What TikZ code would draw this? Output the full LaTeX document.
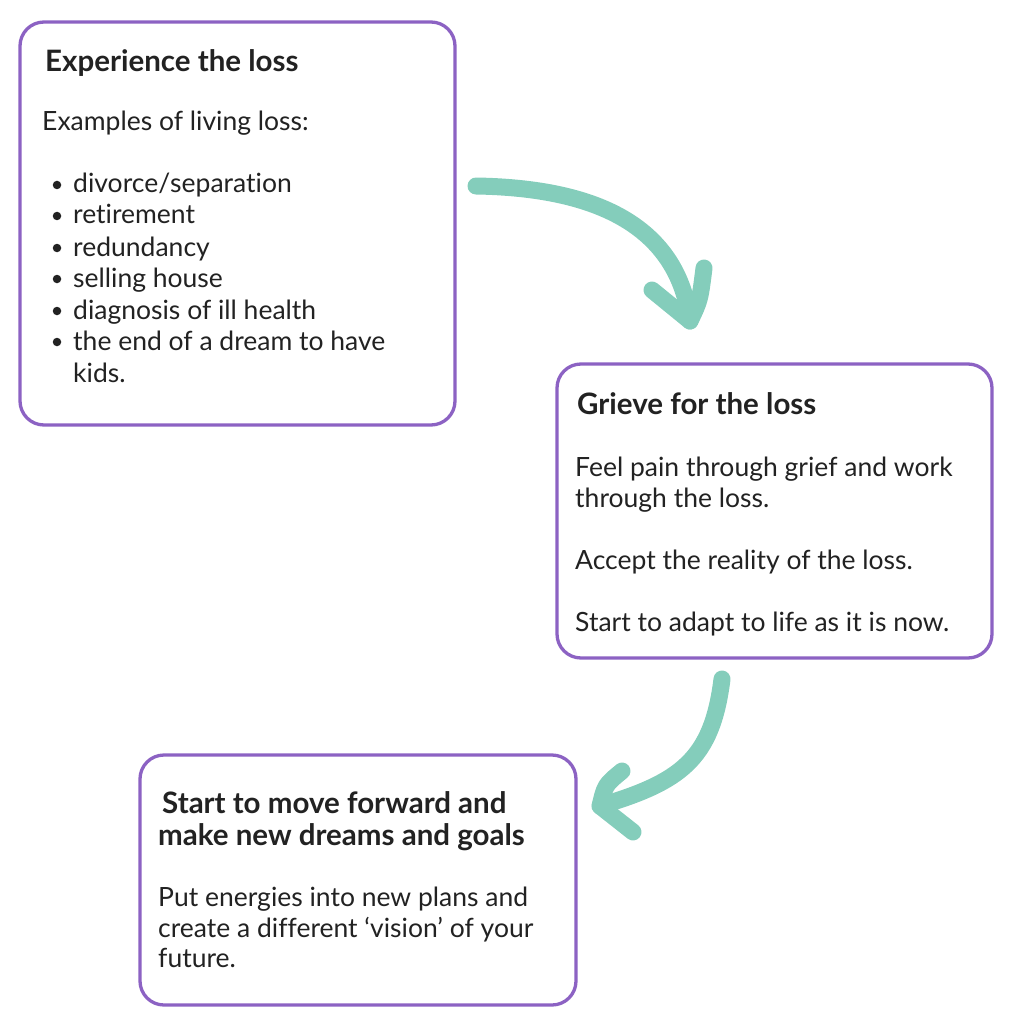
\documentclass[tikz,border=0pt]{standalone}
\usepackage{fontspec}
\setmainfont{Lato}[Ligatures=NoCommon]
\definecolor{boxpurple}{HTML}{8C62C3}
\definecolor{arrowgreen}{HTML}{84CDBB}
\definecolor{txt}{HTML}{222222}
\begin{document}
\begin{tikzpicture}[x=1pt,y=-1pt,
  stagebox/.style={draw=boxpurple,line width=3.3pt,rounded corners=24pt,fill=white},
  ttl/.style={anchor=base west,inner sep=0pt,text=txt,font=\fontsize{29.5}{32}\selectfont\bfseries},
  bodytxt/.style={anchor=base west,inner sep=0pt,text=txt,font=\fontsize{26.5}{31}\selectfont},
  bul/.style={circle,fill=txt,inner sep=0pt,minimum size=8.5pt},
  flow/.style={draw=arrowgreen,line width=17pt,line cap=round,line join=round}]
\useasboundingbox (0,0) rectangle (1024,1024);
% boxes
\draw[stagebox] (20,22) rectangle (455,425);
\draw[stagebox] (557,364) rectangle (992,658);
\draw[stagebox] (140,755) rectangle (576,1005);
% box 1
\node[ttl] (t1) at (45,72) {Experience the loss};
\node[bodytxt] (b1) at (42,131) {Examples of living loss:};
\foreach \y/\t [count=\i] in {193/divorce\slash separation,224/retirement,256/redundancy,287/selling house,319/diagnosis of ill health,350/the end of a dream to have}{
  \node[bul] (d\i) at (57,\y-8) {};
  \node[bodytxt] (l\i) at (73,\y) {\t};
}
\node[bodytxt] (l7) at (73,382) {kids.};
% box 2
\node[ttl] (t2) at (577,414) {Grieve for the loss};
\node[bodytxt] (b2a) at (575,476) {Feel pain through grief and work};
\node[bodytxt] (b2b) at (575,507) {through the loss.};
\node[bodytxt] (b2c) at (575,569) {Accept the reality of the loss.};
\node[bodytxt] (b2d) at (575,631) {Start to adapt to life as it is now.};
% box 3
\node[ttl] (t3a) at (162,813) {Start to move forward and};
\node[ttl] (t3b) at (158,845) {make new dreams and goals};
\node[bodytxt] (b3a) at (158,906) {Put energies into new plans and};
\node[bodytxt] (b3b) at (158,937) {create a different ‘vision’ of your};
\node[bodytxt] (b3c) at (158,967) {future.};
% arrows
\coordinate (a1s) at (476,186);
\coordinate (a1t) at (690,321);
\coordinate (a1l) at (652,290);
\coordinate (a1r) at (704,268);
\draw[flow] (a1s) .. controls (600,188) and (678,228) .. (a1t);
\draw[flow] (a1l) -- (a1t) .. controls (700,300) .. (a1r);
\coordinate (a2s) at (722,679);
\coordinate (a2t) at (600,806);
\coordinate (a2u) at (622,771);
\coordinate (a2d) at (633,832);
\draw[flow] (a2s) .. controls (712,760) and (680,782) .. (a2t);
\draw[flow] (a2u) .. controls (605,785) .. (a2t) -- (a2d);
\end{tikzpicture}
\end{document}
